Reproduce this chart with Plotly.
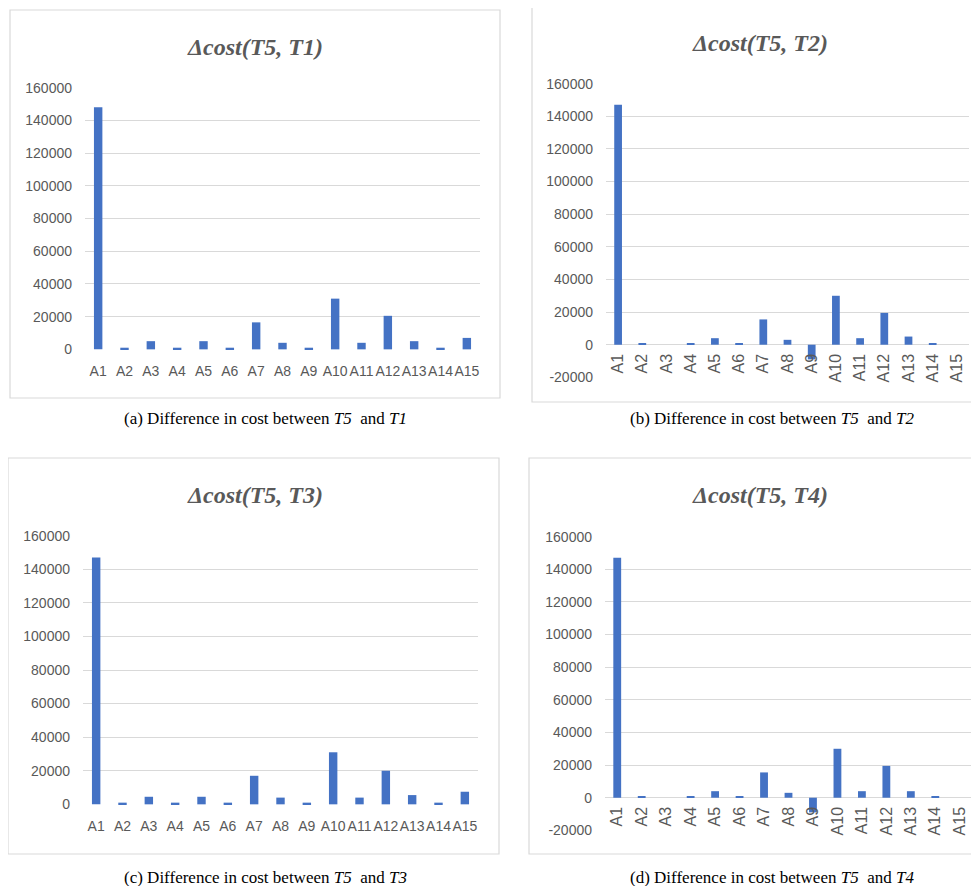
import plotly.graph_objects as go

# page is rendered with the browser's default 8px body margin
OFF = 8
W, H = 979 - OFF, 886 - OFF

categories = [f"A{i}" for i in range(1, 16)]

cost_t5_t1 = [148000, 1000, 5000, 1000, 5000, 1000, 16500, 4000, 1000, 31000, 4000, 20500, 5000, 1000, 7000]
cost_t5_t2 = [147000, 1000, 0, 1000, 4000, 1000, 15500, 3000, -9000, 30000, 4000, 19500, 5000, 1000, 0]
cost_t5_t3 = [147000, 1000, 4500, 1000, 4500, 1000, 17000, 4000, 1000, 31000, 4000, 20000, 5500, 1000, 7500]
cost_t5_t4 = [147000, 1000, 0, 1000, 4000, 1000, 15500, 3000, -9000, 30000, 4000, 19500, 4000, 1000, 0]

titles = ["Δcost(T5, T1)", "Δcost(T5, T2)", "Δcost(T5, T3)", "Δcost(T5, T4)"]
captions = [
    "(a) Difference in cost between <i>T5</i>  and <i>T1</i>",
    "(b) Difference in cost between <i>T5</i>  and <i>T2</i>",
    "(c) Difference in cost between <i>T5</i>  and <i>T3</i>",
    "(d) Difference in cost between <i>T5</i>  and <i>T4</i>",
]
y_tick_vals_pos = [0, 20000, 40000, 60000, 80000, 100000, 120000, 140000, 160000]
y_tick_vals_neg = [-20000] + y_tick_vals_pos

series = [cost_t5_t1, cost_t5_t2, cost_t5_t3, cost_t5_t4]


def px_x(v):
    return (v - OFF) / W


def px_y(v):
    return 1 - (v - OFF) / H


def clamp(v):
    return min(1.0, max(0.0, v))


panels = [
    dict(plot=(85, 480, 87, 350), frame=(10, 10, 500, 398), title=(255, 47), caption=(265, 418), neg=False),
    dict(plot=(606, 969, 83, 378), frame=(532, 7, 995, 402), title=(760, 43), caption=(772, 418), neg=True),
    dict(plot=(83, 478, 535, 805), frame=(8, 458, 499, 854), title=(255, 495), caption=(265, 877), neg=False),
    dict(plot=(605, 972, 536, 831), frame=(529, 458, 995, 854), title=(760, 495), caption=(772, 877), neg=True),
]

fig = go.Figure()
layout = dict(
    width=W, height=H,
    margin=dict(l=0, r=0, t=0, b=0, autoexpand=False),
    paper_bgcolor="white", plot_bgcolor="white",
    showlegend=False,
    bargap=0.68,
    shapes=[], annotations=[],
)

tick_font = dict(family="Liberation Sans, Arial, sans-serif", size=14, color="#595959")
rot_font = dict(family="Liberation Sans, Arial, sans-serif", size=16, color="#595959")
pad = 400

for i, (p, vals) in enumerate(zip(panels, series)):
    n = i + 1
    xa = "xaxis" if n == 1 else f"xaxis{n}"
    ya = "yaxis" if n == 1 else f"yaxis{n}"
    xref = "x" if n == 1 else f"x{n}"
    yref = "y" if n == 1 else f"y{n}"
    l, r, t, b = p["plot"]
    fig.add_trace(go.Bar(x=categories, y=vals, xaxis=xref, yaxis=yref,
                         marker=dict(color="#4472C4", line=dict(width=0))))
    ydom = [clamp(px_y(b)), clamp(px_y(t))]
    xdom = [clamp(px_x(l)), clamp(px_x(r))]
    if p["neg"]:
        ticks = y_tick_vals_neg
        lo, hi = -20000 - pad, 160000 + pad
        pos = ydom[0] + (ydom[1] - ydom[0]) * ((0 - lo) / (hi - lo))
        layout[xa] = dict(domain=xdom, anchor="free", position=pos,
                          tickangle=-90, tickfont=rot_font, showgrid=False,
                          showline=False, zeroline=False, ticks="", ticklabelstandoff=5,
                          automargin=False, fixedrange=True)
    else:
        ticks = y_tick_vals_pos
        lo, hi = 0 - pad, 160000 + pad
        layout[xa] = dict(domain=xdom, anchor=yref,
                          tickangle=0, tickfont=tick_font, showgrid=False,
                          showline=False, zeroline=False, ticks="", ticklabelstandoff=11,
                          automargin=False, fixedrange=True)
    layout[ya] = dict(domain=ydom, anchor=xref, range=[lo, hi], tickvals=ticks,
                      ticktext=[str(v) for v in ticks],
                      tickfont=tick_font, showgrid=True, gridcolor="#D9D9D9", gridwidth=1,
                      zeroline=False, showline=False, ticks="", ticklabelstandoff=12,
                      automargin=False, fixedrange=True)
    fl, ft, fr, fb = p["frame"]
    layout["shapes"].append(dict(type="rect", xref="paper", yref="paper",
                                 x0=px_x(fl), x1=px_x(fr), y0=px_y(fb), y1=px_y(ft),
                                 line=dict(color="#D9D9D9", width=1.2), layer="below"))
    tx, ty = p["title"]
    layout["annotations"].append(dict(text=f"<b><i>{titles[i]}</i></b>", xref="paper", yref="paper",
                                      x=px_x(tx), y=px_y(ty), xanchor="center", yanchor="middle",
                                      showarrow=False,
                                      font=dict(family="Liberation Serif, Times New Roman, serif",
                                                size=24, color="#595959")))
    cx, cy = p["caption"]
    layout["annotations"].append(dict(text=captions[i], xref="paper", yref="paper",
                                      x=px_x(cx), y=px_y(cy), xanchor="center", yanchor="middle",
                                      showarrow=False,
                                      font=dict(family="Liberation Serif, Times New Roman, serif",
                                                size=17, color="#000000")))

fig.update_layout(**layout)
fig.write_html("out.html")
